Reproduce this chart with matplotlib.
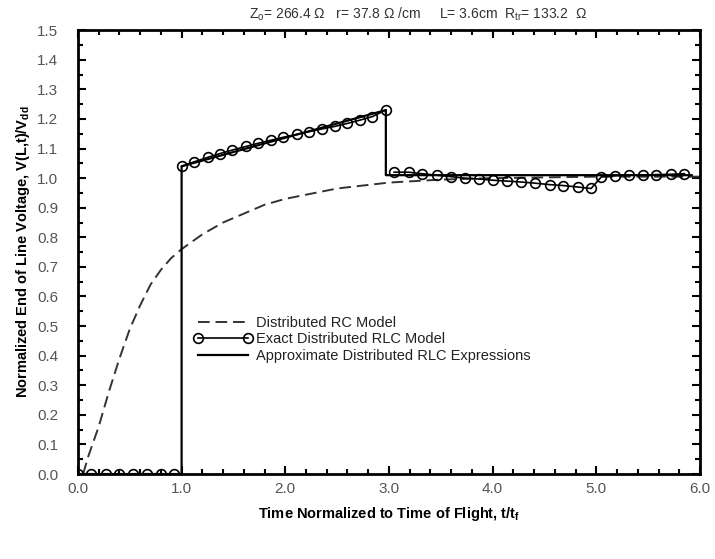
import matplotlib.pyplot as plt
from matplotlib.lines import Line2D
from matplotlib.ticker import MultipleLocator, FormatStrFormatter

plt.rcParams['font.family'] = ['Liberation Sans', 'DejaVu Sans']

# distributed RC model (dashed)
t_rc = [0.05, 0.1, 0.2, 0.3, 0.4, 0.5, 0.6, 0.7, 0.8, 0.9, 1.0, 1.2, 1.4, 1.6,
        1.8, 2.0, 2.5, 3.0, 3.5, 4.0, 5.0, 6.0]
v_rc = [0.0, 0.06, 0.16, 0.28, 0.39, 0.49, 0.57, 0.64, 0.69, 0.73, 0.76, 0.81,
        0.85, 0.88, 0.91, 0.93, 0.965, 0.985, 0.995, 1.0, 1.005, 1.005]

# exact distributed RLC model (line + circles)
t_exact = [0.0, 0.13, 0.27, 0.4, 0.53, 0.67, 0.8, 0.93,
           1.0, 1.12, 1.25, 1.37, 1.49, 1.62, 1.74, 1.86, 1.98, 2.11, 2.23,
           2.35, 2.48, 2.6, 2.72, 2.84, 2.97,
           3.05, 3.19, 3.32, 3.46, 3.6, 3.73, 3.87, 4.0, 4.14, 4.27, 4.41,
           4.55, 4.68, 4.82, 4.95,
           5.05, 5.18, 5.32, 5.45, 5.58, 5.72, 5.85]
v_exact = [0.0, 0.0, 0.0, 0.0, 0.0, 0.0, 0.0, 0.0,
           1.04, 1.055, 1.07, 1.083, 1.095, 1.107, 1.118, 1.128, 1.138, 1.148,
           1.157, 1.166, 1.175, 1.185, 1.196, 1.208, 1.23,
           1.02, 1.02, 1.015, 1.01, 1.005, 1.0, 0.997, 0.993, 0.99, 0.987,
           0.983, 0.978, 0.975, 0.97, 0.965,
           1.005, 1.008, 1.01, 1.01, 1.012, 1.013, 1.015]

# approximate distributed RLC expressions (solid)
t_apx = [0.0, 1.0, 1.0, 2.97, 2.97, 5.92]
v_apx = [0.0, 0.0, 1.04, 1.23, 1.01, 1.01]

fig = plt.figure(figsize=(7.15, 5.59), dpi=100)
ax = fig.add_axes([0.109, 0.152, 0.870, 0.794])

ax.plot(t_rc, v_rc, linestyle=(0, (6, 3)), color='#333333', linewidth=1.4)
ax.plot(t_apx, v_apx, color='black', linewidth=1.6)

# the exact curve jumps straight up at t=1 and straight down near t=3
i1 = t_exact.index(1.0)
i3 = t_exact.index(3.05)
segments = [(0, i1), (i1, i3), (i3, len(t_exact))]
for a, b in segments:
    ax.plot(t_exact[a:b], v_exact[a:b], color='black', linewidth=1.2,
            marker='o', markersize=7, markerfacecolor='none',
            markeredgecolor='black', markeredgewidth=1.2)

ax.set_xlim(0, 6)
ax.set_ylim(0, 1.5)
ax.xaxis.set_major_locator(MultipleLocator(1.0))
ax.xaxis.set_minor_locator(MultipleLocator(0.2))
ax.yaxis.set_major_locator(MultipleLocator(0.1))
ax.yaxis.set_minor_locator(MultipleLocator(0.05))
ax.xaxis.set_major_formatter(FormatStrFormatter('%.1f'))
ax.yaxis.set_major_formatter(FormatStrFormatter('%.1f'))
ax.tick_params(which='both', direction='in', top=True, right=True,
               labelcolor='#555555', labelsize=11, width=1.5, color='black')
ax.tick_params(which='major', length=6)
ax.tick_params(which='minor', length=3.5)
ax.tick_params(axis='y', which='major', pad=14)
ax.tick_params(axis='x', which='major', pad=6)
for s in ax.spines.values():
    s.set_linewidth(2)

ax.set_xlabel('Time Normalized to Time of Flight, t/t$_\\mathregular{f}$',
              fontsize=10.5, fontweight='bold', labelpad=6)
ax.set_ylabel('Normalized End of Line Voltage, V(L,t)/V$_\\mathregular{dd}$',
              fontsize=10.5, fontweight='bold', labelpad=4)

fig.text(0.585, 0.975,
         'Z$_\\mathregular{o}$= 266.4 \u03a9   r= 37.8 \u03a9 /cm     L= 3.6cm  '
         'R$_\\mathregular{tr}$= 133.2  \u03a9',
         ha='center', va='center', fontsize=10, color='#333333')

handles = [
    Line2D([], [], linestyle=(0, (6, 3)), color='#333333', linewidth=1.4),
    Line2D([], [], color='black', linewidth=1.2, marker='o', markersize=7,
           markerfacecolor='none', markeredgecolor='black', markeredgewidth=1.2),
    Line2D([], [], color='black', linewidth=1.6),
]
labels = ['Distributed RC Model', 'Exact Distributed RLC Model',
          'Approximate Distributed RLC Expressions']
ax.legend(handles, labels, loc='upper left', bbox_to_anchor=(0.165, 0.385),
          frameon=False, fontsize=10.5, numpoints=2, handlelength=4.0,
          handletextpad=0.3, labelspacing=0.15, labelcolor='#222222')

plt.savefig('out.png', dpi=100)
